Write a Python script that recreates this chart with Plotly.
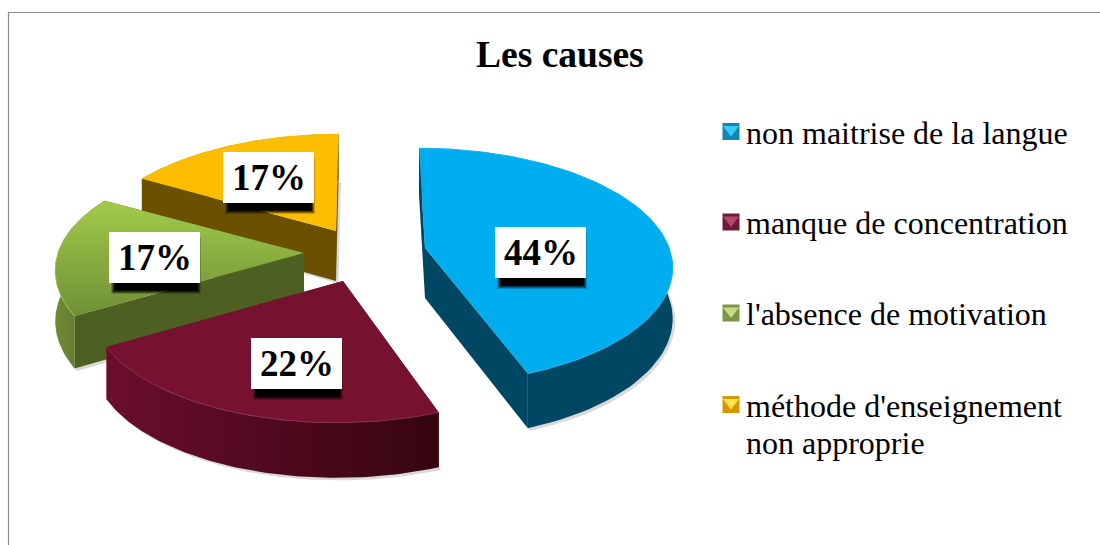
import numpy as np
import plotly.graph_objects as go

title = "Les causes"
categories = ["non maitrise de la langue", "manque de concentration",
              "l'absence de motivation", "méthode d'enseignement<br>non approprie"]
values = [44.4, 22.2, 16.7, 16.7]

# ---- styling / 3-D projection parameters (not data) ----
FONT = "Liberation Serif"
A, B, K, DEPTH = 246.0, 114.0, 0.178, 50.0
apex = [(425, 248), (343, 281), (304, 253), (336, 231)]
arc_shift = [(-3, -3), (0, 3), (0, 0), (1, 0)]
shear = [20, -30, 40, -10]
draw_order = [3, 2, 1, 0]
top_fill = [("#00ADEF", "#00ADEF"), ("#761230", "#761230"), ("#A2CB4B", "#6F8F35"), ("#FDBD00", "#FDBD00")]
rim_fill = [("#004763", "#004763"), ("#6B0E2D", "#35050F"), ("#6F8C36", "#55692A"), ("#6B5000", "#6B5000")]
radial_fill = ["#004763", "#5E0E28", "#4E6021", "#6B5000"]
rim_light = ["#1AB8F0", "#8E2E4C", "#9DC24C", "#FDBD00"]
label_boxes = [(495, 227), (251, 338), (109, 232), (223, 152)]
legend_y = [131.5, 222, 313, 404.5]
legend_text_y = [133, 223, 314, 406]
legend_dark = ["#0F86B5", "#6F1A38", "#7C9447", "#D19A00"]
legend_light = ["#3CC8F5", "#B0476B", "#C6DC82", "#FFE24D"]


def project(i, theta, down=0.0):
    X, Y = np.sin(theta), np.cos(theta)
    w = 1 + K * Y
    ax, ay = apex[i]
    dx, dy = arc_shift[i]
    return (ax + dx + A * X / w + shear[i] * (1 / w - 1),
            ay + dy - B * Y / w + down / np.sqrt(w))


def poly(fig, x, y, fill, grad=None):
    kw = dict(fillcolor=fill)
    if grad:
        kw = dict(fillgradient=dict(type=grad[0], colorscale=[[0, grad[1]], [1, grad[2]]]))
    fig.add_trace(go.Scatter(x=list(x), y=list(y), mode="lines", fill="toself",
                             line=dict(width=0), hoverinfo="skip", showlegend=False, **kw))


fig = go.Figure()
total = sum(values)
edges = np.cumsum([0] + values) / total * 2 * np.pi

for i in draw_order:
    t = np.linspace(edges[i], edges[i + 1], 90)
    ax, ay = apex[i]
    xt, yt = project(i, t)
    xb, yb = project(i, t, DEPTH)
    # soft ground shadow
    sx = np.r_[ax, xb, ax] + 2.5
    sy = np.r_[ay + DEPTH, yb, ay + DEPTH] + 2.5
    fig.add_trace(go.Scatter(x=sx, y=sy, mode="lines", fill="toself", fillcolor="rgba(120,120,120,0.28)",
                             line=dict(width=0), hoverinfo="skip", showlegend=False))
    # radial faces
    for end in (0, -1):
        poly(fig, [ax, xt[end], xb[end], ax], [ay, yt[end], yb[end], ay + DEPTH], radial_fill[i])
    # rim
    poly(fig, np.r_[xt, xb[::-1]], np.r_[yt, yb[::-1]], rim_fill[i][0],
         ("horizontal", rim_fill[i][0], rim_fill[i][1]))
    # top
    poly(fig, np.r_[ax, xt, ax], np.r_[ay, yt, ay], top_fill[i][0],
         ("vertical", top_fill[i][1], top_fill[i][0]))
    # bevel highlight along the rim
    fig.add_trace(go.Scatter(x=xt, y=yt, mode="lines", line=dict(color=rim_light[i], width=1),
                             hoverinfo="skip", showlegend=False))

# legend keys
fig.add_trace(go.Scatter(x=[731] * 4, y=legend_y, mode="markers", hoverinfo="skip", showlegend=False,
                         marker=dict(symbol="square", size=17, color=legend_dark, line=dict(width=0))))
fig.add_trace(go.Scatter(x=[731] * 4, y=[v - 2 for v in legend_y], mode="markers", hoverinfo="skip", showlegend=False,
                         marker=dict(symbol="triangle-down", size=14, color=legend_light, line=dict(width=0))))

shapes = [dict(type="path", path="M 8.5 545 L 8.5 12.5 L 1100 12.5", line=dict(color="#8C8C8C", width=1.2), layer="below")]
annotations = [dict(x=559.5, y=54, text=f"<b>{title}</b>", showarrow=False, xanchor="center", yanchor="middle",
                    font=dict(family=FONT, size=37.5, color="black"))]
for v, (bx, by) in zip(values, label_boxes):
    for grow, op in ((2, 0.2), (1, 0.3), (0, 0.45), (-1, 0.7), (-2, 1.0)):
        shapes.append(dict(type="rect", x0=bx + 4 - grow, x1=bx + 90 + grow, y0=by + 6, y1=by + 60 + grow,
                           fillcolor="black", opacity=op, line=dict(width=0), layer="above"))
    shapes.append(dict(type="rect", x0=bx, x1=bx + 91, y0=by, y1=by + 51, fillcolor="white",
                       line=dict(width=0), layer="above"))
    annotations.append(dict(x=bx + 45.5, y=by + 25.5, text=f"<b>{v:.0f}%</b>", showarrow=False,
                            xanchor="center", yanchor="middle",
                            font=dict(family=FONT, size=37, color="black")))
for name, y in zip(categories, legend_text_y):
    for j, line in enumerate(name.split("<br>")):
        annotations.append(dict(x=744, y=y + j * 37, text=line, showarrow=False, xanchor="left", yanchor="middle",
                                font=dict(family=FONT, size=32, color="black")))

fig.update_layout(width=1100, height=545, margin=dict(l=0, r=0, t=0, b=0), autosize=False,
                  paper_bgcolor="white", plot_bgcolor="white", showlegend=False,
                  xaxis=dict(range=[0, 1100], visible=False, fixedrange=True),
                  yaxis=dict(range=[545, 0], visible=False, fixedrange=True),
                  shapes=shapes, annotations=annotations)
fig.write_html("out.html", config=dict(displayModeBar=False),
               post_script="document.body.style.margin='0';document.body.style.overflow='hidden';")
